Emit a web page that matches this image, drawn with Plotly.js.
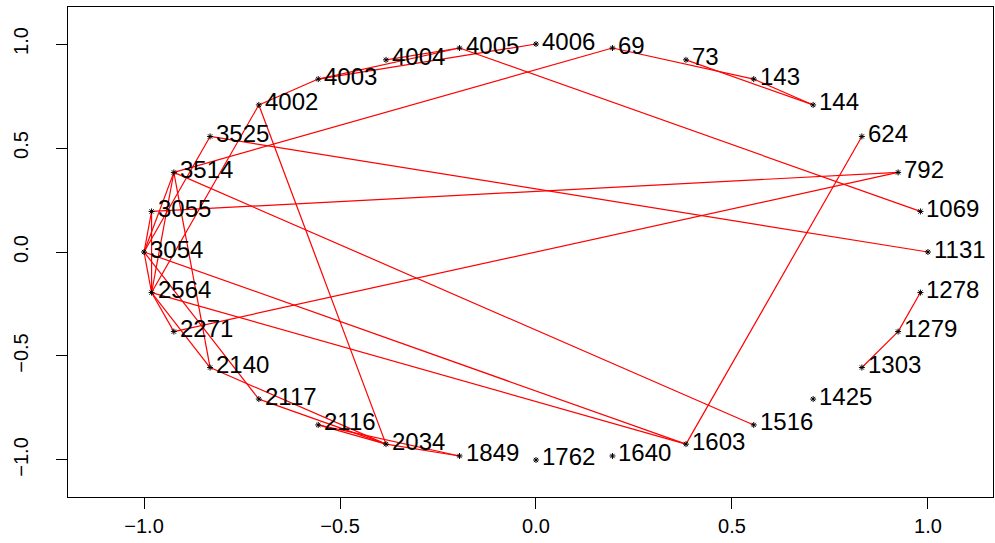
<!DOCTYPE html>
<html>
<head>
<meta charset="utf-8">
<script src="https://cdn.plot.ly/plotly-3.0.1.min.js"></script>
<style>html,body{margin:0;padding:0;background:#fff;}#chart{width:995px;height:543px;}</style>
</head>
<body>
<div id="chart"></div>
<script>
// Node labels in clockwise order around the circle (first one just right of the top)
const nodeLabels = ["69","73","143","144","624","792","1069","1131","1278","1279","1303","1425",
  "1516","1603","1640","1762","1849","2034","2116","2117","2140","2271","2564","3054",
  "3055","3514","3525","4002","4003","4004","4005","4006"];

// Edge list (pairs of node labels)
const edgeFrom = ["4002","4003","4003","4004","4005","69","73","143","624","1278","1279",
  "3525","3525","3514","3514","3514","3514","3514","3055","3055","3054","3054","3054",
  "4002","4002","2564","2564","2564","2271","2140","2117","2116","2116","2034","3055"];
const edgeTo   = ["4003","4005","4006","4005","1069","143","144","144","1603","1279","1303",
  "1131","3054","1516","69","3054","2564","2140","792","3054","2564","2117","1603",
  "2564","2034","2271","2140","1603","792","2034","2034","2034","1849","1849","2564"];

// axis ticks
const tickVals = [-1, -0.5, 0, 0.5, 1];
const tickText = ["\u22121.0", "\u22120.5", "0.0", "0.5", "1.0"];

// circular layout
const n = nodeLabels.length;
const pos = {};
nodeLabels.forEach((lab, i) => {
  const a = (90 - (i + 1) * 360 / n) * Math.PI / 180;
  pos[lab] = [Math.cos(a), Math.sin(a)];
});

const ex = [], ey = [];
for (let i = 0; i < edgeFrom.length; i++) {
  const p = pos[edgeFrom[i]], q = pos[edgeTo[i]];
  ex.push(p[0], q[0], null);
  ey.push(p[1], q[1], null);
}

const font = "Liberation Sans, Arial, Helvetica, sans-serif";

const traces = [
  {x: ex, y: ey, mode: "lines", type: "scatter", line: {color: "#ff0000", width: 1.2},
   hoverinfo: "skip", showlegend: false},
  {x: nodeLabels.map(l => pos[l][0]), y: nodeLabels.map(l => pos[l][1]),
   mode: "markers", type: "scatter",
   marker: {symbol: "asterisk-open", size: 5, color: "#000", line: {color: "#000", width: 1}},
   showlegend: false}
];

const annotations = nodeLabels.map(l => ({
  x: pos[l][0], y: pos[l][1], xref: "x", yref: "y", text: l, showarrow: false,
  xanchor: "left", yanchor: "middle", xshift: 4, yshift: 3,
  font: {family: font, size: 24, color: "#000"}
}));

const axisCommon = {
  tickvals: tickVals, ticktext: tickText,
  showgrid: false, zeroline: false, showline: true, mirror: true, linecolor: "#000", linewidth: 1,
  ticks: "outside", ticklen: 11, tickcolor: "#000",
  tickfont: {family: font, size: 20, color: "#000"}
};

const layout = {
  width: 995, height: 543,
  margin: {l: 68, r: 2, t: 7, b: 46},
  paper_bgcolor: "#fff", plot_bgcolor: "#fff",
  showlegend: false,
  annotations: annotations,
  xaxis: Object.assign({}, axisCommon, {range: [-1.194, 1.166]}),
  yaxis: Object.assign({}, axisCommon, {range: [-1.178, 1.178], tickangle: -90, ticklabelstandoff: 20})
};

Plotly.newPlot("chart", traces, layout, {displayModeBar: false, staticPlot: true});
</script>
</body>
</html>
